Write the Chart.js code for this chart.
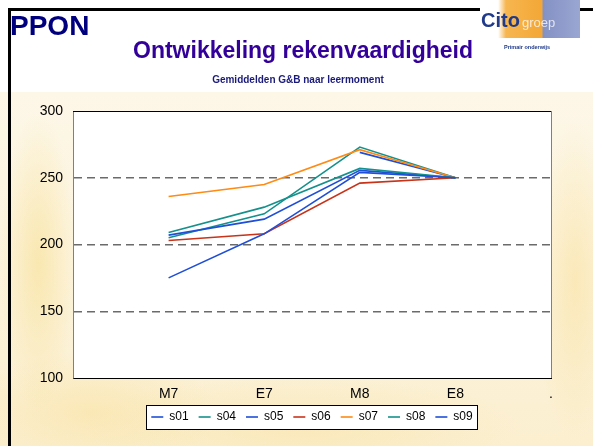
<!DOCTYPE html>
<html>
<head>
<meta charset="utf-8">
<script src="https://cdn.jsdelivr.net/npm/chart.js@4.4.1/dist/chart.umd.min.js"></script>
<style>
  html, body { margin: 0; padding: 0; }
  body {
    width: 593px; height: 446px; position: relative; overflow: hidden;
    background: #fff; font-family: "Liberation Sans", Arial, sans-serif;
  }
  #paper {
    position: absolute; left: 0; top: 92px; width: 593px; height: 354px;
    background:
      radial-gradient(ellipse 38px 150px at 38px 170px, rgba(247,222,140,0.55), rgba(247,222,140,0)),
      radial-gradient(ellipse 130px 60px at 90px 320px, rgba(248,220,140,0.4), rgba(248,220,140,0)),
      radial-gradient(ellipse 220px 50px at 300px 335px, rgba(248,222,150,0.4), rgba(248,222,150,0)),
      radial-gradient(ellipse 40px 160px at 575px 190px, rgba(249,224,155,0.55), rgba(249,224,155,0)),
      linear-gradient(#fdf7e8, #fbefd0);
  }
  .bar { position: absolute; background: #000; }
  #chartBox { position: absolute; left: 0; top: 0; }
  .txt { position: absolute; white-space: nowrap; font-weight: bold; }
  #ppon { left: 10px; top: 12px; font-size: 28px; line-height: 28px; color: #00007f; }
  #title { left: 303px; top: 39px; transform: translateX(-50%); font-size: 23px; line-height: 23px; color: #330099; }
  #subtitle { left: 298px; top: 75px; transform: translateX(-50%); font-size: 10px; line-height: 10px; color: #1a1a7a; }
  #logo { position: absolute; left: 480px; top: 0; width: 100px; height: 38px;
    background: linear-gradient(90deg, #fff 0, #fff 18px, #f7b650 26px, #f3a735 62px, #8391c4 63px, #9aa6d2 100px); }
  #cito { left: 481px; top: 10px; font-size: 20px; line-height: 20px; color: #1f3a8a; }
  #groep { left: 522px; top: 16px; font-size: 13px; line-height: 13px; font-weight: normal; color: rgba(255,255,255,0.75); }
  #po { left: 504px; top: 44px; font-size: 5.5px; line-height: 6px; color: #1f3a8a; }
</style>
</head>
<body>
<div id="paper"></div>
<div id="logo"></div>
<div class="bar" style="left:8px; top:8px; width:472px; height:3px;"></div>
<div class="bar" style="left:580px; top:8px; width:13px; height:3px;"></div>
<div class="bar" style="left:8px; top:8px; width:3px; height:438px;"></div>
<div id="chartBox"><canvas id="chart" width="593" height="446"></canvas></div>
<div class="txt" id="ppon">PPON</div>
<div class="txt" id="title">Ontwikkeling rekenvaardigheid</div>
<div class="txt" id="subtitle">Gemiddelden G&amp;B naar leermoment</div>
<div class="txt" id="cito">Cito</div>
<div class="txt" id="groep">groep</div>
<div class="txt" id="po">Primair onderwijs</div>
<script>
// Leermomenten; the axis has an empty slot before M7 and a '.' slot after E8
const moments = ['M7', 'E7', 'M8', 'E8'];
const xLabels = [''].concat(moments, ['.']);

// Mean scores per school
const s01 = [175, 208, 254, 250];
const s04 = [209, 228, 257, 250];
const s05 = [207, 219, 255.5, 250];
const s06 = [203, 208, 246, 250];
const s07 = [236, 245, 271, 250];
const s08 = [205, 223, 273, 250];
const s09 = [null, null, 269, 250];

const seriesNames = ['s01', 's04', 's05', 's06', 's07', 's08', 's09'];
const seriesValues = [s01, s04, s05, s06, s07, s08, s09];
const seriesColors = ['#1f4fd8', '#14918c', '#1f4fd8', '#c8341a', '#ff8a14', '#14918c', '#1f4fd8'];

const yMin = 100;
const yMax = 300;
const yStep = 50;

function padSeries(values) {
    return [null].concat(values, [null]);
}

// White plot area, top/right frame and the boxed legend
const plotFrame = {
    id: 'plotFrame',
    beforeDraw(chart) {
        const { ctx, chartArea: a } = chart;
        ctx.save();
        ctx.fillStyle = '#fff';
        ctx.fillRect(a.left, a.top, a.right - a.left, a.bottom - a.top);
        const b = legendBounds(chart);
        if (b) ctx.fillRect(b.left, b.top, b.right - b.left, b.bottom - b.top);
        ctx.restore();
    },
    afterDraw(chart) {
        const { ctx, chartArea: a } = chart;
        ctx.save();
        ctx.lineWidth = 1;
        ctx.strokeStyle = '#000';
        ctx.beginPath();
        ctx.moveTo(a.left, Math.round(a.top) + 0.5);
        ctx.lineTo(a.right, Math.round(a.top) + 0.5);
        ctx.stroke();
        ctx.strokeStyle = '#808080';
        ctx.beginPath();
        ctx.moveTo(Math.round(a.right) + 0.5, a.top);
        ctx.lineTo(Math.round(a.right) + 0.5, a.bottom);
        ctx.stroke();
        const b = legendBounds(chart);
        if (b) {
            ctx.strokeStyle = '#000';
            ctx.strokeRect(Math.round(b.left) + 0.5, Math.round(b.top) + 0.5,
                Math.round(b.right - b.left), Math.round(b.bottom - b.top));
        }
        ctx.restore();
    }
};

function legendBounds(chart) {
    const boxes = chart.legend && chart.legend.legendHitBoxes;
    if (!boxes || !boxes.length) return null;
    const left = Math.min(...boxes.map(h => h.left));
    const right = Math.max(...boxes.map(h => h.left + h.width));
    const top = Math.min(...boxes.map(h => h.top));
    const bottom = Math.max(...boxes.map(h => h.top + h.height));
    return { left: left - 5, right: right + 5, top: top - 6, bottom: bottom + 6 };
}

new Chart(document.getElementById('chart'), {
    type: 'line',
    data: {
        labels: xLabels,
        datasets: seriesNames.map((name, i) => ({
            label: name,
            data: padSeries(seriesValues[i]),
            borderColor: seriesColors[i],
            backgroundColor: seriesColors[i],
            borderWidth: 1.6,
            pointRadius: 0,
            tension: 0,
            fill: false
        }))
    },
    options: {
        responsive: false,
        animation: false,
        layout: { padding: { left: 0, right: 42, top: 111, bottom: 13 } },
        plugins: {
            title: { display: false },
            tooltip: { enabled: false },
            legend: {
                position: 'bottom',
                fullSize: false,
                labels: {
                    usePointStyle: true,
                    pointStyle: 'line',
                    pointStyleWidth: 12,
                    boxHeight: 12,
                    padding: 10,
                    color: '#000',
                    font: { family: '"Liberation Sans", Arial, sans-serif', size: 12 }
                }
            }
        },
        scales: {
            x: {
                offset: false,
                grid: { display: false, drawTicks: false },
                border: { color: '#000', width: 1 },
                ticks: {
                    autoSkip: false,
                    maxRotation: 0,
                    padding: 8,
                    color: '#000',
                    font: { family: '"Liberation Sans", Arial, sans-serif', size: 14 }
                },
                afterFit: (scale) => { scale.height = 23; }
            },
            y: {
                min: yMin,
                max: yMax,
                grid: {
                    drawTicks: false,
                    lineWidth: 1.5,
                    color: (ctx) => (ctx.tick && (ctx.tick.value === yMin || ctx.tick.value === yMax))
                        ? 'rgba(0,0,0,0)' : '#6b6b6b'
                },
                border: { color: '#808080', width: 1, dash: [8, 5] },
                ticks: {
                    stepSize: yStep,
                    padding: 10,
                    color: '#000',
                    font: { family: '"Liberation Sans", Arial, sans-serif', size: 14 }
                },
                afterFit: (scale) => { scale.width = 73; }
            }
        }
    },
    plugins: [plotFrame]
});
</script>
</body>
</html>
